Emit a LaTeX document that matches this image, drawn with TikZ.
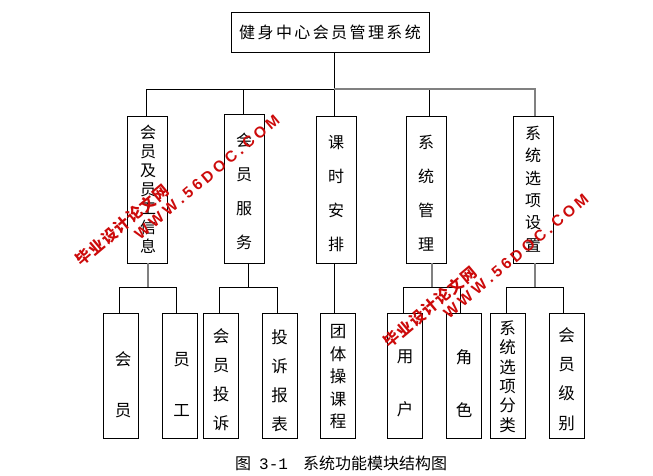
\documentclass[tikz,border=0pt]{standalone}
\usepackage{fontspec}
\newfontfamily\cjk{Noto Sans CJK SC}
\newfontfamily\monof{Liberation Mono}
\newfontfamily\wmlat{Liberation Sans}
\definecolor{wmred}{RGB}{204,10,10}
\newcommand\wmcn{毕\hspace{1.2pt}业\hspace{1.2pt}设\hspace{1.2pt}计\hspace{1.2pt}论\hspace{1.2pt}文\hspace{1.2pt}网}
\newcommand\wmsp{\hspace{3.6pt}}
\newcommand\wmen{W\wmsp W\wmsp W\wmsp .\wmsp 5\wmsp 6\wmsp D\wmsp O\wmsp C\wmsp .\wmsp C\wmsp O\wmsp M}
\begin{document}
\begin{tikzpicture}[x=1pt,y=-1pt,
  box/.style={draw, line width=0.9pt, inner sep=0pt},
  lvtwo/.style={box, minimum width=40pt, minimum height=147pt},
  lvthree/.style={box, minimum width=35pt, minimum height=125pt},
  vt/.style={font=\cjk\fontsize{16}{#1}\selectfont, align=center, inner sep=0pt},
  vtl/.style={font=\cjk\fontsize{16.5}{#1}\selectfont, align=center, inner sep=0pt},
  conn/.style={line width=0.9pt},
  gconn/.style={line width=1.3pt, draw=gray},
  wmc/.style={text=wmred, font=\cjk\bfseries\fontsize{15.5}{15.5}\selectfont, inner sep=0pt, rotate=40},
  wme/.style={text=wmred, font=\wmlat\bfseries\fontsize{15.5}{15.5}\selectfont, inner sep=0pt, rotate=40}]
\useasboundingbox (0,0) rectangle (653,475);

% top
\node[box, minimum width=198pt, minimum height=40pt, font=\cjk\fontsize{16}{16}\selectfont] (top) at (330,32)
  {健\hspace{2.4pt}身\hspace{2.4pt}中\hspace{2.4pt}心\hspace{2.4pt}会\hspace{2.4pt}员\hspace{2.4pt}管\hspace{2.4pt}理\hspace{2.4pt}系\hspace{2.4pt}统};

% level 2
\node[lvtwo] (b1) at (147,189.5) {};
\node[lvtwo, minimum height=149pt] (b2) at (244,188.5) {};
\node[lvtwo] (b3) at (336,189.5) {};
\node[lvtwo] (b4) at (426,189.5) {};
\node[lvtwo] (b5) at (533,189.5) {};
\node[vt=19] (t1) at (148,189.5) {会\\员\\及\\员\\工\\信\\息};
\node[vt=34] (t2) at (244,191) {会\\员\\服\\务};
\node[vt=34] (t3) at (336,193.5) {课\\时\\安\\排};
\node[vt=34] (t4) at (426,193.5) {系\\统\\管\\理};
\node[vt=22.4] (t5) at (533,189) {系\\统\\选\\项\\设\\置};

% level 3
\node[lvthree] (c11) at (120.5,375.5) {};
\node[lvthree] (c12) at (180,375.5) {};
\node[lvthree] (c21) at (221,375.5) {};
\node[lvthree] (c22) at (279.5,375.5) {};
\node[lvthree] (c31) at (338,375.5) {};
\node[lvthree] (c41) at (404.5,375.5) {};
\node[lvthree] (c42) at (463.5,375.5) {};
\node[lvthree] (c51) at (507.5,375.5) {};
\node[lvthree] (c52) at (566.5,375.5) {};
\node[vtl=51] (s11) at (123,384.5) {会\\员};
\node[vtl=51] (s12) at (181.5,384.5) {员\\工};
\node[vtl=29] (s21) at (221,380) {会\\员\\投\\诉};
\node[vtl=29] (s22) at (279.5,381) {投\\诉\\报\\表};
\node[vtl=22.5] (s31) at (338,377) {团\\体\\操\\课\\程};
\node[vtl=53] (s41) at (405,383.5) {用\\户};
\node[vtl=53] (s42) at (464,383.5) {角\\色};
\node[vtl=19.4] (s51) at (507.5,376.5) {系\\统\\选\\项\\分\\类};
\node[vtl=29.3] (s52) at (566.5,379) {会\\员\\级\\别};

% connectors top -> level 2
\coordinate (j0) at (334,89);
\draw[conn] (j0 |- top.south) -- (j0);
\draw[conn] (j0) -| ([xshift=-1pt]b1.north);
\draw[conn] (j0) -| ([xshift=-1pt]b2.north);
\draw[conn] (j0) -| ([xshift=-1.5pt]b3.north);
\draw[conn] (j0) -| ([xshift=3pt]b4.north);
\draw[gconn] (j0) -| ([xshift=2pt]b5.north);

% level 2 -> level 3
\draw[gconn] ([xshift=1pt]b1.south) -- ++(0,24) coordinate (j1);
\draw[conn] (j1) -| ([xshift=-1.5pt]c11.north);
\draw[conn] (j1) -| ([xshift=-4pt]c12.north);
\draw[conn] ([xshift=4pt]b2.south) -- ++(0,24) coordinate (j2);
\draw[conn] (j2) -| ([xshift=-2pt]c21.north);
\draw[conn] (j2) -| ([xshift=-2.5pt]c22.north);
\draw[conn] ([xshift=-1.5pt]b3.south) -- ([xshift=-3.5pt]c31.north);
\draw[gconn] ([xshift=6pt]b4.south) -- ++(0,24) coordinate (j4);
\draw[conn] (j4) -| ([xshift=-1.5pt]c41.north);
\draw[conn] (j4) -| ([xshift=-3.5pt]c42.north);
\draw[gconn] ([xshift=2pt]b5.south) -- ++(0,24) coordinate (j5);
\draw[conn] (j5) -| ([xshift=-1.5pt]c51.north);
\draw[conn] (j5) -| ([xshift=-3.5pt]c52.north);

% caption
\node[anchor=west, inner sep=0pt, font=\fontsize{16}{16}\selectfont] (cap) at (235,463)
  {{\cjk 图}\hspace{8pt}{\monof 3-1}\hspace{15pt}{\cjk 系统功能模块结构图}};

% watermarks
\node[wmc] (wm1) at (122,225) {\wmcn};
\node[wme] (wm2) at (207,177) {\wmen};
\node[wmc] (wm3) at (430,307) {\wmcn};
\node[wme] (wm4) at (516,256) {\wmen};
\end{tikzpicture}
\end{document}
